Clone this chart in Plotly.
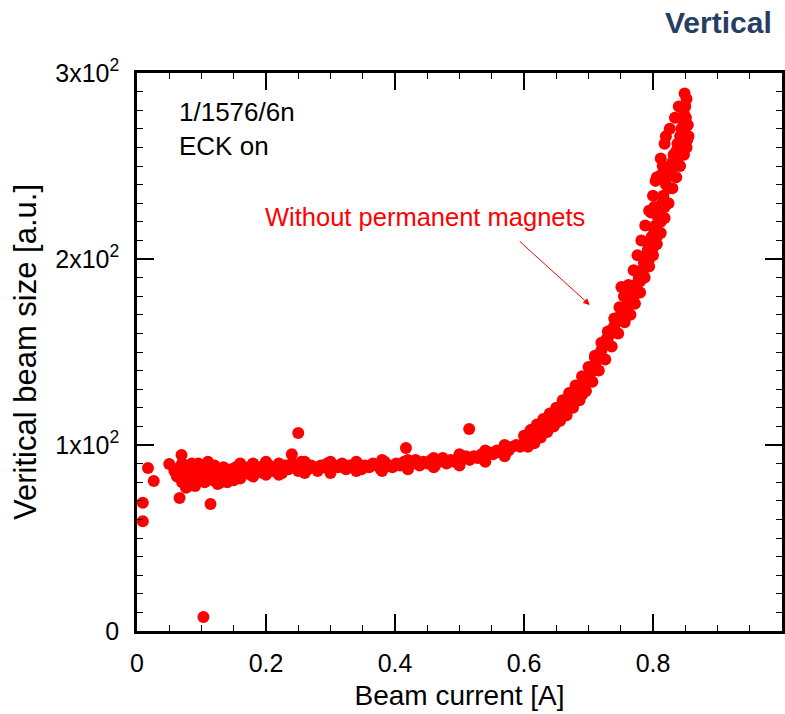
import plotly.graph_objects as go

# ---- data ----
# isolated points
x_out = [0.103, 0.009, 0.009, 0.017, 0.026, 0.050, 0.069, 0.066, 0.114, 0.250, 0.515, 0.751, 0.417, 0.240]
y_out = [7.5, 59, 69, 87.6, 80.6, 89.8, 94.6, 71.5, 68.3, 106.5, 108.6, 185, 98.4, 95]

# flat band (0.06 - 0.60 A)
x_flat = [0.058, 0.062, 0.066, 0.070, 0.074, 0.076, 0.079, 0.082, 0.085, 0.087,
          0.090, 0.093, 0.095, 0.098, 0.100, 0.102, 0.105, 0.107, 0.110, 0.112,
          0.115, 0.118, 0.120, 0.123, 0.126, 0.128, 0.131, 0.134, 0.137, 0.140,
          0.143, 0.146, 0.150, 0.153, 0.157, 0.160, 0.164, 0.168, 0.172, 0.176,
          0.180, 0.185, 0.190, 0.195, 0.200, 0.205, 0.210, 0.215, 0.220, 0.225,
          0.230, 0.235, 0.240, 0.245, 0.250, 0.255, 0.260, 0.265, 0.270, 0.275,
          0.280, 0.285, 0.290, 0.295, 0.300, 0.306, 0.312, 0.318, 0.324, 0.330,
          0.336, 0.342, 0.348, 0.354, 0.360, 0.366, 0.372, 0.378, 0.384, 0.390,
          0.396, 0.402, 0.408, 0.414, 0.420, 0.426, 0.432, 0.438, 0.444, 0.450,
          0.456, 0.462, 0.468, 0.474, 0.480, 0.486, 0.492, 0.498, 0.504, 0.510,
          0.516, 0.522, 0.528, 0.534, 0.540, 0.546, 0.552, 0.558, 0.564, 0.570,
          0.576, 0.582, 0.588, 0.594, 0.600, 0.125, 0.140, 0.080, 0.095, 0.110,
          0.160, 0.180, 0.200, 0.220, 0.260, 0.300, 0.340, 0.380, 0.420, 0.460,
          0.500, 0.540, 0.570, 0.160, 0.180, 0.200, 0.220, 0.260, 0.300, 0.340,
          0.380, 0.420, 0.460, 0.500, 0.540, 0.570, 0.090, 0.130, 0.150, 0.070]
y_flat = [86, 83, 88, 80, 84, 77, 87, 82, 90, 79,
          85, 88, 81, 86, 83, 89, 80, 85, 88, 83,
          86, 81, 89, 84, 87, 82, 86, 88, 84, 86,
          83, 87, 85, 88, 84, 86, 87, 85, 88, 84,
          87, 86, 88, 85, 87, 89, 86, 88, 87, 85,
          89, 87, 90, 88, 86, 91, 88, 87, 89, 88,
          86, 89, 88, 90, 87, 89, 88, 90, 87, 89,
          88, 90, 87, 89, 88, 90, 89, 87, 91, 89,
          88, 90, 89, 91, 88, 90, 92, 89, 91, 90,
          92, 89, 91, 93, 90, 92, 91, 93, 92, 94,
          92, 94, 93, 95, 94, 96, 95, 97, 96, 98,
          97, 99, 100, 99, 101, 79, 80, 78, 90, 91,
          90, 90, 91, 90, 91, 91, 91, 92, 92, 93,
          95, 97, 100, 82, 83, 84, 84, 85, 85, 86,
          86, 87, 88, 89, 91, 94, 78, 80, 81, 90]

# knee (0.60 - 0.75 A)
x_knee = [0.604, 0.608, 0.612, 0.616, 0.620, 0.624, 0.628, 0.632, 0.636, 0.640,
          0.644, 0.648, 0.652, 0.656, 0.660, 0.664, 0.668, 0.672, 0.676, 0.680,
          0.684, 0.688, 0.692, 0.696, 0.700, 0.704, 0.708, 0.712, 0.716, 0.720,
          0.724, 0.728, 0.732, 0.736, 0.740, 0.744, 0.748, 0.752, 0.690, 0.710,
          0.730, 0.650, 0.670,
          0.600, 0.610, 0.620, 0.630, 0.640, 0.650, 0.660, 0.670, 0.680, 0.690,
          0.700, 0.710, 0.720, 0.730, 0.740, 0.748,
          0.606, 0.616, 0.626, 0.636, 0.646, 0.656, 0.666, 0.676, 0.686, 0.696,
          0.706, 0.716, 0.726, 0.736, 0.746, 0.756]
y_knee = [103, 102, 105, 104, 107, 106, 109, 110, 111, 112,
          114, 115, 115, 117, 118, 120, 121, 123, 124, 124,
          126, 128, 131, 133, 136, 139, 142, 145, 148, 151,
          154, 157, 159, 162, 164, 167, 169, 172, 127, 147,
          155, 112, 125,
          105, 108, 111, 114, 117, 120, 124, 128, 132, 137,
          142, 148, 155, 161, 168, 174,
          99, 101, 104, 107, 110, 113, 116, 120, 124, 129,
          134, 140, 146, 153, 160, 166]

# steep rise (0.75 - 0.86 A)
x_steep = [0.756, 0.760, 0.762, 0.765, 0.768, 0.770, 0.772, 0.775, 0.778, 0.780,
           0.782, 0.784, 0.786, 0.788, 0.790, 0.792, 0.794, 0.796, 0.798, 0.800,
           0.802, 0.804, 0.806, 0.808, 0.810, 0.812, 0.814, 0.816, 0.818, 0.820,
           0.822, 0.824, 0.826, 0.828, 0.830, 0.832, 0.834, 0.836, 0.838, 0.840,
           0.842, 0.844, 0.846, 0.847, 0.848, 0.849, 0.850, 0.851, 0.852, 0.853,
           0.854, 0.849, 0.820, 0.802, 0.804, 0.815, 0.812, 0.797,
           0.755, 0.762, 0.770, 0.776, 0.782, 0.788, 0.794, 0.800, 0.806, 0.812,
           0.818, 0.826, 0.834, 0.840,
           0.765, 0.772, 0.780, 0.787, 0.794, 0.800, 0.806, 0.812, 0.818, 0.824,
           0.830, 0.836, 0.842, 0.848, 0.852, 0.855]
y_steep = [174, 172, 178, 176, 182, 180, 186, 184, 190, 188,
           194, 192, 198, 196, 202, 205, 200, 208, 212, 206,
           215, 218, 212, 222, 226, 220, 230, 234, 228, 240,
           244, 238, 248, 246, 252, 256, 250, 258, 262, 255,
           266, 270, 262, 274, 278, 268, 282, 276, 286, 264,
           272, 289, 266, 228, 242, 250, 245, 225,
           180, 186, 194, 202, 210, 218, 226, 234, 244, 254,
           262, 270, 276, 282,
           170, 176, 182, 190, 196, 202, 208, 214, 222, 230,
           238, 244, 250, 256, 260, 266]

x_all = x_out + x_flat + x_knee + x_steep
y_all = y_out + y_flat + y_knee + y_steep

x_ticks = [0, 0.2, 0.4, 0.6, 0.8, 1.0]
x_ticklabels = ["0", "0.2", "0.4", "0.6", "0.8", "1"]
y_ticks = [0, 100, 200, 300]
y_ticklabels = ["0", "1x10<sup>2</sup>", "2x10<sup>2</sup>", "3x10<sup>2</sup>"]

FONT = "Arial, Liberation Sans, Helvetica, sans-serif"

fig = go.Figure()
fig.add_trace(go.Scatter(
    x=x_all, y=y_all, mode="markers",
    marker=dict(color="#FF0000", size=12, line=dict(width=0)),
    showlegend=False, hoverinfo="x+y"))

axis_common = dict(
    showgrid=False, zeroline=False, showline=True, linecolor="black", linewidth=2.5,
    mirror="ticks", ticks="inside", ticklen=17, tickwidth=1.5, tickcolor="black",
    tickfont=dict(family=FONT, size=25, color="black"),
)

fig.update_xaxes(
    range=[0, 1], tickvals=x_ticks, ticktext=x_ticklabels,
    minor=dict(dtick=0.05, ticks="inside", ticklen=6, tickwidth=1.2, tickcolor="black"),
    title=dict(text="Beam current [A]", font=dict(family=FONT, size=28, color="black"), standoff=10),
    ticklabelstandoff=8,
    **axis_common)
fig.update_yaxes(
    range=[0, 300], tickvals=y_ticks, ticktext=y_ticklabels,
    minor=dict(dtick=10, ticks="inside", ticklen=6, tickwidth=1.2, tickcolor="black"),
    title=dict(text="Veritical beam size [a.u.]", font=dict(family=FONT, size=31, color="black"), standoff=10),
    ticklabelstandoff=10,
    **axis_common)

fig.add_annotation(x=0.062, y=279.3, xref="x", yref="y", text="1/1576/6n", showarrow=False,
                   xanchor="left", yanchor="middle", font=dict(family=FONT, size=26, color="black"))
fig.add_annotation(x=0.062, y=260.8, xref="x", yref="y", text="ECK on", showarrow=False,
                   xanchor="left", yanchor="middle", font=dict(family=FONT, size=26, color="black"))
fig.add_annotation(x=0.446, y=222.6, xref="x", yref="y", text="Without permanent magnets",
                   showarrow=False, xanchor="center", yanchor="middle",
                   font=dict(family=FONT, size=25.5, color="#FF0000"))
fig.add_annotation(x=0.702, y=175.3, ax=0.591, ay=210.2, xref="x", yref="y", axref="x", ayref="y",
                   text="", showarrow=True, arrowhead=2, arrowsize=1.3, arrowwidth=1,
                   arrowcolor="#FF0000")
fig.add_annotation(x=0.9877, y=1.0905, xref="paper", yref="paper", text="<b>Vertical</b>",
                   showarrow=False, xanchor="right", yanchor="middle",
                   font=dict(family=FONT, size=30, color="#263E64"))

fig.update_layout(
    width=785, height=714, autosize=False,
    margin=dict(l=137, r=0, t=73, b=83),
    paper_bgcolor="white", plot_bgcolor="white",
)

fig.write_html("out.html")
